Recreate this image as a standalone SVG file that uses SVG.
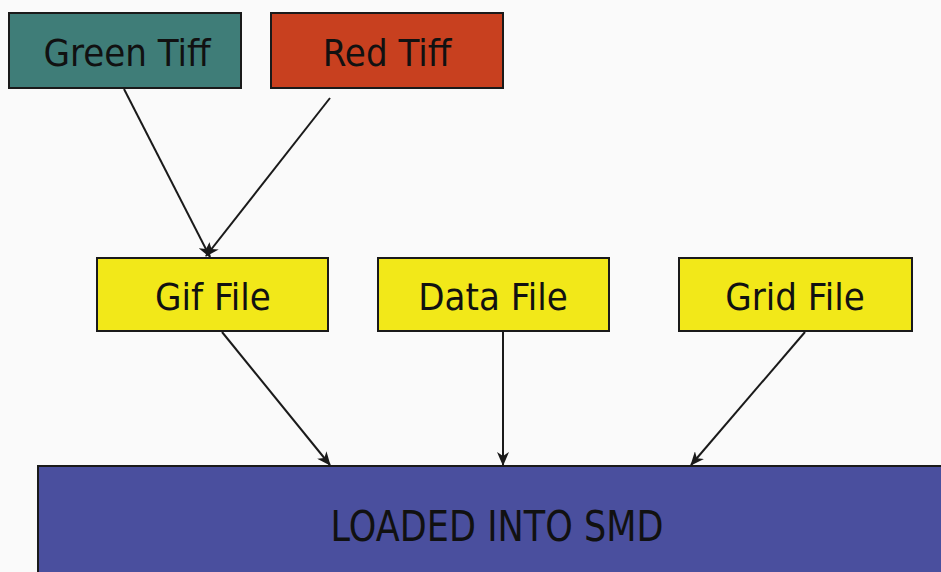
<svg xmlns="http://www.w3.org/2000/svg" width="941" height="572" viewBox="0 0 941 572">
  <style>
    .box { stroke: #1a1a1a; stroke-width: 2; }
    .lbl { font-family: "DejaVu Sans Condensed", "DejaVu Sans", "Liberation Sans", sans-serif; font-stretch: condensed; fill: #111; text-anchor: middle; }
    .top { font-size: 38px; }
    .mid { font-size: 38px; }
    .wire { stroke: #1a1a1a; stroke-width: 2; fill: none; marker-end: url(#head); }
  </style>
  <defs>
    <marker id="head" viewBox="0 0 14 12" refX="13" refY="6" markerWidth="14" markerHeight="12" markerUnits="userSpaceOnUse" orient="auto">
      <path d="M0,0 L14,6 L0,12 L4,6 Z" fill="#1a1a1a"/>
    </marker>
  </defs>
  <rect x="0" y="0" width="941" height="572" fill="#fafafa"/>

  <g id="green-tiff">
    <rect class="box" x="9" y="13" width="232" height="75" fill="#3f7d78"/>
    <text class="lbl top" x="127" y="66">Green Tiff</text>
  </g>
  <g id="red-tiff">
    <rect class="box" x="271" y="13" width="232" height="75" fill="#c8401f"/>
    <text class="lbl top" x="387" y="66">Red Tiff</text>
  </g>
  <g id="gif-file">
    <rect class="box" x="97" y="258" width="231" height="73" fill="#f2e819"/>
    <text class="lbl mid" x="213" y="310">Gif File</text>
  </g>
  <g id="data-file">
    <rect class="box" x="378" y="258" width="231" height="73" fill="#f2e819"/>
    <text class="lbl mid" x="493" y="310">Data File</text>
  </g>
  <g id="grid-file">
    <rect class="box" x="679" y="258" width="233" height="73" fill="#f2e819"/>
    <text class="lbl mid" x="795" y="310">Grid File</text>
  </g>
  <g id="smd">
    <rect class="box" x="38" y="466" width="910" height="110" fill="#4a4f9e"/>
    <text x="0" y="541" font-size="42" font-family="DejaVu Sans, Liberation Sans, sans-serif" fill="#111" text-anchor="middle" transform="translate(497 0) scale(0.835 1)">LOADED INTO SMD</text>
  </g>

  <g id="connectors">
    <line class="wire" x1="124" y1="89" x2="210" y2="257"/>
    <line class="wire" x1="330" y1="98" x2="206" y2="256"/>
    <line class="wire" x1="222" y1="332" x2="330" y2="465"/>
    <line class="wire" x1="503" y1="332" x2="503" y2="465"/>
    <line class="wire" x1="805" y1="332" x2="691" y2="465"/>
  </g>
</svg>
